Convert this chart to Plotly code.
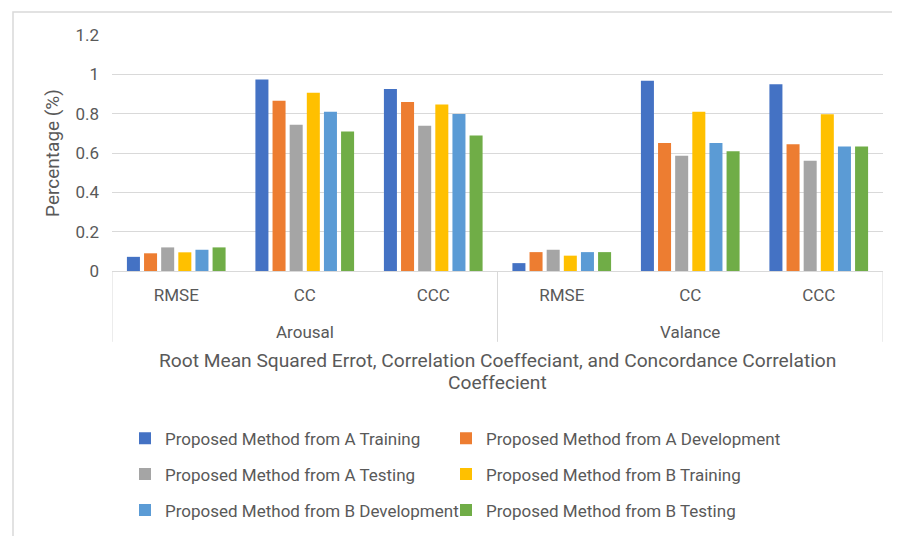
import plotly.graph_objects as go

# ---- data ----
outer = ["Arousal", "Arousal", "Arousal", "Valance", "Valance", "Valance"]
inner = ["RMSE", "CC", "CCC", "RMSE", "CC", "CCC"]

series_names = [
    "Proposed Method from A Training",
    "Proposed Method from A Development",
    "Proposed Method from A Testing",
    "Proposed Method from B Training",
    "Proposed Method from B Development",
    "Proposed Method from B Testing",
]
a_training    = [0.072, 0.974, 0.925, 0.040, 0.967, 0.949]
a_development = [0.090, 0.866, 0.859, 0.096, 0.651, 0.645]
a_testing     = [0.120, 0.744, 0.738, 0.108, 0.586, 0.560]
b_training    = [0.095, 0.906, 0.847, 0.078, 0.810, 0.797]
b_development = [0.108, 0.810, 0.798, 0.096, 0.651, 0.633]
b_testing     = [0.120, 0.709, 0.689, 0.096, 0.609, 0.633]
series_values = [a_training, a_development, a_testing, b_training, b_development, b_testing]

y_tickvals = [0, 0.2, 0.4, 0.6, 0.8, 1.0, 1.2]
y_ticktext = ["0", "0.2", "0.4", "0.6", "0.8", "1", "1.2"]

x_title_line1 = "Root Mean Squared Errot, Correlation Coeffeciant, and Concordance Correlation"
x_title_line2 = "Coeffecient"
y_title = "Percentage (%)"

colors = ["#4472C4", "#ED7D31", "#A5A5A5", "#FFC000", "#5B9BD5", "#70AD47"]

FONT = "Roboto"
TXT = "#595959"
LINE = "#D9D9D9"

# unique category keys (outer|inner), shown with inner labels as ticks
keys = [f"{o}|{i}" for o, i in zip(outer, inner)]

legend_ids = ["legend"] + [f"legend{k}" for k in range(2, len(series_names) + 1)]

fig = go.Figure()
for name, vals, col, lg in zip(series_names, series_values, colors, legend_ids):
    fig.add_trace(go.Bar(
        x=keys, y=vals, name=name,
        marker=dict(color=col, line=dict(width=0)),
        legend=lg,
    ))

# ---- geometry (page body has an 8px offset) ----
W, H = 900, 536
OFF = 8
ml, mr, mt, mb = 104, 25, 26.5, 273
pw = W - ml - mr
ph = H - mt - mb

def px2x(px):
    return (px - OFF - ml) / pw

def py2y(py):
    return (H - mb - (py - OFF)) / ph

# legend grid: 2 columns x 3 rows (screen px of legend box left / row centre)
col_x = [125, 446]
row_y = [439, 475, 511]
legend_layout = {}
for k, lg in enumerate(legend_ids):
    legend_layout[lg] = dict(
        x=px2x(col_x[k % 2]), y=py2y(row_y[k // 2]),
        orientation="h", xanchor="left", yanchor="middle",
        font=dict(family=FONT, size=17, color=TXT),
        bgcolor="rgba(0,0,0,0)", itemclick=False, itemdoubleclick=False,
    )

# outer group labels & dividers
groups = []
for o in outer:
    if o not in groups:
        groups.append(o)
annotations = []
for g in groups:
    idx = [k for k, o in enumerate(outer) if o == g]
    annotations.append(dict(
        x=sum(idx) / len(idx), xref="x", y=py2y(332), yref="paper",
        text=g, showarrow=False, xanchor="center", yanchor="middle",
        font=dict(family=FONT, size=17, color=TXT),
    ))
annotations.append(dict(
    x=0.5, xref="paper", y=py2y(361), yref="paper", text=x_title_line1,
    showarrow=False, xanchor="center", yanchor="middle",
    font=dict(family=FONT, size=19.2, color=TXT),
))
annotations.append(dict(
    x=0.5, xref="paper", y=py2y(383), yref="paper", text=x_title_line2,
    showarrow=False, xanchor="center", yanchor="middle",
    font=dict(family=FONT, size=19.2, color=TXT),
))

bounds = [-0.5]
for k in range(1, len(outer)):
    if outer[k] != outer[k - 1]:
        bounds.append(k - 0.5)
bounds.append(len(outer) - 0.5)

shapes = [dict(
    type="line", xref="x", yref="paper", x0=b, x1=b, y0=0, y1=py2y(342),
    line=dict(color=LINE, width=1),
) for b in bounds]
shapes.append(dict(
    type="rect", xref="paper", yref="paper",
    x0=px2x(13), x1=px2x(915), y0=py2y(570), y1=py2y(11.5),
    line=dict(color=LINE, width=1.5), fillcolor="rgba(0,0,0,0)", layer="below",
))

fig.update_layout(
    width=W, height=H,
    margin=dict(l=ml, r=mr, t=mt, b=mb),
    paper_bgcolor="white", plot_bgcolor="white",
    font=dict(family=FONT, size=17, color=TXT),
    barmode="group", bargap=0.2, bargroupgap=0.24,
    showlegend=True,
    xaxis=dict(
        type="category", range=[-0.5, len(keys) - 0.5],
        tickvals=keys, ticktext=inner,
        showline=True, linecolor=LINE, linewidth=1,
        showgrid=False, ticks="",
        tickfont=dict(family=FONT, size=17, color=TXT),
        ticklabelstandoff=9,
    ),
    yaxis=dict(
        range=[0, 1.2], tickvals=y_tickvals, ticktext=y_ticktext,
        showgrid=True, gridcolor=LINE, gridwidth=1,
        zeroline=False, showline=False,
        tickfont=dict(family=FONT, size=17, color=TXT),
        ticklabelstandoff=12,
        title=dict(text=y_title, font=dict(family=FONT, size=19, color=TXT), standoff=10),
    ),
    annotations=annotations,
    shapes=shapes,
    **legend_layout,
)

fig.write_html("out.html")
